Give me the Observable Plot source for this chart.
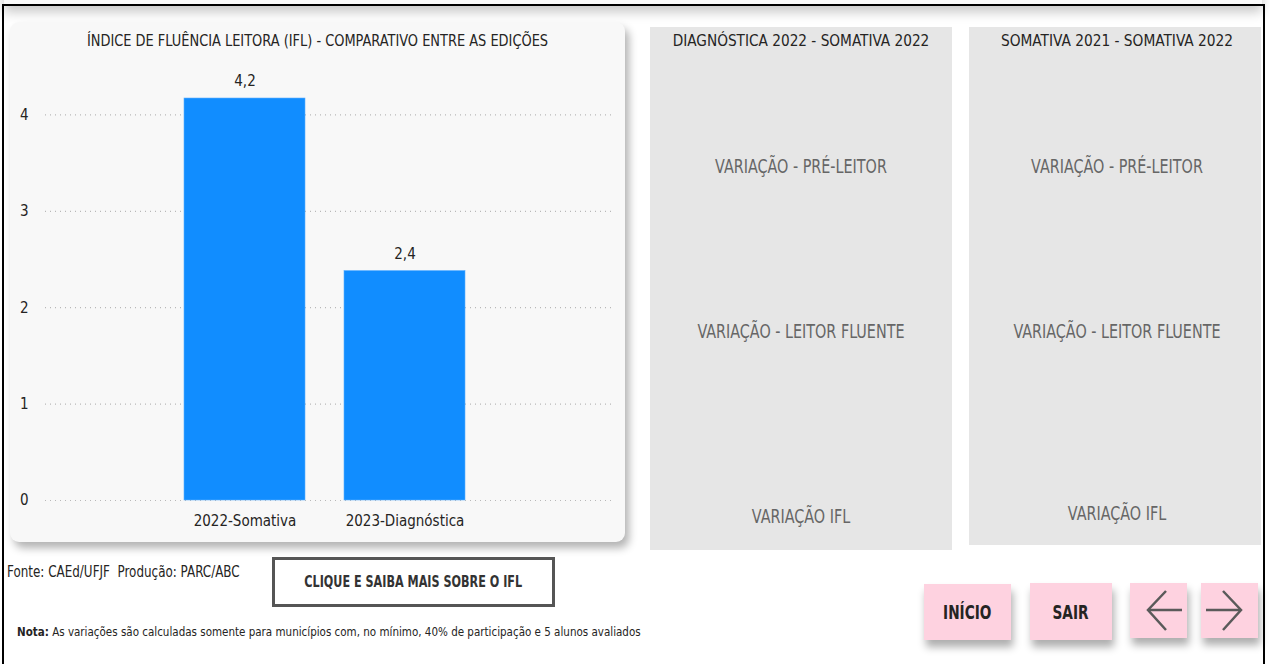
<!DOCTYPE html>
<html>
<head>
<meta charset="utf-8">
<script src="https://cdn.jsdelivr.net/npm/d3@7"></script>
<script src="https://cdn.jsdelivr.net/npm/@observablehq/plot@0.6"></script>
<style>
  html, body { margin:0; padding:0; background:#fff; width:1270px; height:664px; overflow:hidden; }
  body { position:relative; font-family:"DejaVu Sans Condensed","Liberation Sans Narrow",sans-serif; color:#252423; }
  .abs { position:absolute; }
  .frame { left:2px; top:4px; width:1259px; height:700px; border:2px solid #000; }
  .topstrip { left:4px; top:-30px; width:1258px; height:36px; background:#fafafa; box-shadow:0 6px 12px rgba(0,0,0,0.22); }
  .card1 { left:10px; top:22px; width:615px; height:520px; background:#f8f8f8; border-radius:9px; box-shadow:4px 6px 9px rgba(0,0,0,0.30); }
  .gcard { background:#e6e6e6; }
  .ctitle { text-align:center; font-size:16px; color:#252423; white-space:nowrap; transform-origin:center; }
  .var { text-align:center; font-size:19px; color:#666666; white-space:nowrap; transform:scaleX(0.84); transform-origin:center; }
  .btn { background:#fed2e0; box-shadow:2px 7px 8px rgba(0,0,0,0.32); display:flex; align-items:center; justify-content:center; font-size:19px; font-weight:bold; color:#252423; }
  .btn span { display:inline-block; transform:scaleX(0.8); }
</style>
</head>
<body>
<div class="abs topstrip"></div>
<div class="abs frame"></div>

<div class="abs card1"></div>
<div class="abs ctitle" style="left:10px; width:615px; top:31px; transform:scaleX(0.90);">ÍNDICE DE FLUÊNCIA LEITORA (IFL) - COMPARATIVO ENTRE AS EDIÇÕES</div>
<div id="chart" class="abs" style="left:10px; top:60px;"></div>

<div class="abs gcard" style="left:650px; top:27px; width:302px; height:523px;"></div>
<div class="abs ctitle" style="left:650px; width:302px; top:31px; transform:scaleX(0.95);">DIAGNÓSTICA 2022 - SOMATIVA 2022</div>
<div class="abs var" style="left:650px; width:302px; top:155px;">VARIAÇÃO - PRÉ-LEITOR</div>
<div class="abs var" style="left:650px; width:302px; top:320px;">VARIAÇÃO - LEITOR FLUENTE</div>
<div class="abs var" style="left:650px; width:302px; top:505px;">VARIAÇÃO IFL</div>

<div class="abs gcard" style="left:969px; top:27px; width:292px; height:518px;"></div>
<div class="abs ctitle" style="left:969px; width:296px; top:31px; transform:scaleX(0.955);">SOMATIVA 2021 - SOMATIVA 2022</div>
<div class="abs var" style="left:969px; width:296px; top:155px;">VARIAÇÃO - PRÉ-LEITOR</div>
<div class="abs var" style="left:969px; width:296px; top:320px;">VARIAÇÃO - LEITOR FLUENTE</div>
<div class="abs var" style="left:969px; width:296px; top:502px;">VARIAÇÃO IFL</div>

<div class="abs" style="left:7px; top:563px; font-size:15px; color:#252423; white-space:nowrap; transform:scaleX(0.886); transform-origin:left;">Fonte: CAEd/UFJF&nbsp; Produção: PARC/ABC</div>
<div class="abs" style="left:272px; top:557px; width:277px; height:44px; border:3px solid #555; display:flex; align-items:center; justify-content:center; font-size:15px; font-weight:bold; color:#333;"><span style="display:inline-block; transform:scaleX(0.83);">CLIQUE E SAIBA MAIS SOBRE O IFL</span></div>
<div class="abs" style="left:17px; top:624px; font-size:13px; color:#252423; white-space:nowrap; transform:scaleX(0.885); transform-origin:left;"><b>Nota:</b> As variações são calculadas somente para municípios com, no mínimo, 40% de participação e 5 alunos avaliados</div>

<div class="abs btn" style="left:924px; top:584px; width:87px; height:56px;"><span>INÍCIO</span></div>
<div class="abs btn" style="left:1030px; top:583px; width:82px; height:57px;"><span>SAIR</span></div>
<div class="abs btn" style="left:1130px; top:583px; width:57px; height:55px;">
  <svg width="57" height="55"><polyline points="36,8 18,27 36,47" fill="none" stroke="#5a5a5a" stroke-width="2.5"/><line x1="18" y1="27" x2="52" y2="27" stroke="#5a5a5a" stroke-width="2.5"/></svg>
</div>
<div class="abs btn" style="left:1201px; top:583px; width:57px; height:55px;">
  <svg width="57" height="55"><polyline points="22,8 40,27 22,47" fill="none" stroke="#5a5a5a" stroke-width="2.5"/><line x1="5" y1="27" x2="40" y2="27" stroke="#5a5a5a" stroke-width="2.5"/></svg>
</div>

<script>
const editions = ["2022-Somativa", "2023-Diagnóstica"];
const iflValues = [4.17, 2.38];
const yTicks = [0, 1, 2, 3, 4];

const data = editions.map((e, i) => ({edition: e, ifl: iflValues[i]}));
const fmt = v => d3.format(".1f")(v).replace(".", ",");

const chart = Plot.plot({
  width: 615,
  height: 475,
  marginLeft: 35,
  marginRight: 10,
  marginTop: 0,
  marginBottom: 35,
  style: {background: "transparent", fontFamily: "'DejaVu Sans Condensed','Liberation Sans Narrow',sans-serif", fontSize: "15px", color: "#252423"},
  x: {domain: editions, range: [173, 456], paddingInner: 0.242, paddingOuter: 0, label: null},
  y: {domain: [0, 4.5], range: [440, 6.2], ticks: yTicks, label: null},
  marks: [
    Plot.ruleY(yTicks, {stroke: "#b8b8b8", strokeDasharray: "1,4", strokeWidth: 1.2}),
    Plot.barY(data, {x: "edition", y: "ifl", fill: "#118DFF", stroke: "#5aaeff", strokeWidth: 0.6}),
    Plot.text(data, {x: "edition", y: "ifl", text: d => fmt(d.ifl), dy: -17, fontSize: 15, fill: "#252423"}),
    Plot.axisX({tickSize: 0, tickPadding: 15, fontSize: 15}),
    Plot.axisY({ticks: yTicks, tickFormat: d => String(d), tickSize: 0, tickPadding: 17, fontSize: 15})
  ]
});
document.getElementById("chart").appendChild(chart);
</script>
</body>
</html>
